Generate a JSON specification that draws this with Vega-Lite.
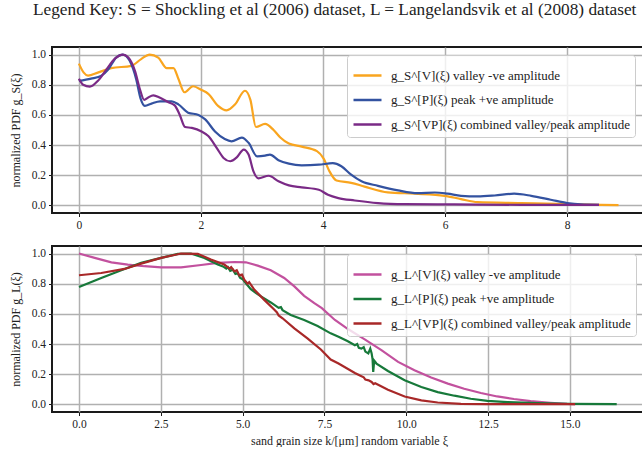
{
 "$schema": "https://vega.github.io/schema/vega-lite/v6.json",
 "padding": {"left": 8, "top": 0, "right": 0, "bottom": 0},
 "bounds": "flush",
 "spacing": 33,
 "title": {"text": "Legend Key: S = Shockling et al (2006) dataset, L = Langelandsvik et al (2008) dataset", "anchor": "start", "frame": "group", "dx": -19, "fontSize": 17.3, "font": "Liberation Serif, Times New Roman, serif", "fontWeight": "normal", "color": "#222", "offset": 28},
 "datasets": {
  "S": [
   {"x":0,"y":0.94,"s":"V"},{"x":0.08,"y":0.88,"s":"V"},{"x":0.15,"y":0.86,"s":"V"},{"x":0.31,"y":0.88,"s":"V"},{"x":0.53,"y":0.91,"s":"V"},{"x":0.86,"y":0.925,"s":"V"},{"x":1.02,"y":0.97,"s":"V"},{"x":1.16,"y":1.0,"s":"V"},{"x":1.30,"y":0.98,"s":"V"},{"x":1.44,"y":0.91,"s":"V"},{"x":1.55,"y":0.91,"s":"V"},{"x":1.63,"y":0.84,"s":"V"},{"x":1.73,"y":0.75,"s":"V"},{"x":1.87,"y":0.79,"s":"V"},{"x":2.01,"y":0.765,"s":"V"},{"x":2.12,"y":0.74,"s":"V"},{"x":2.28,"y":0.66,"s":"V"},{"x":2.42,"y":0.63,"s":"V"},{"x":2.56,"y":0.67,"s":"V"},{"x":2.72,"y":0.76,"s":"V"},{"x":2.81,"y":0.70,"s":"V"},{"x":2.90,"y":0.52,"s":"V"},{"x":3.05,"y":0.54,"s":"V"},{"x":3.19,"y":0.50,"s":"V"},{"x":3.30,"y":0.45,"s":"V"},{"x":3.44,"y":0.41,"s":"V"},{"x":3.65,"y":0.39,"s":"V"},{"x":3.90,"y":0.36,"s":"V"},{"x":4.01,"y":0.31,"s":"V"},{"x":4.10,"y":0.23,"s":"V"},{"x":4.22,"y":0.165,"s":"V"},{"x":4.46,"y":0.15,"s":"V"},{"x":4.68,"y":0.125,"s":"V"},{"x":5.06,"y":0.087,"s":"V"},{"x":5.50,"y":0.078,"s":"V"},{"x":5.99,"y":0.064,"s":"V"},{"x":6.26,"y":0.042,"s":"V"},{"x":6.53,"y":0.022,"s":"V"},{"x":7.24,"y":0.016,"s":"V"},{"x":8.0,"y":0.009,"s":"V"},{"x":8.55,"y":0.004,"s":"V"},{"x":8.84,"y":0.002,"s":"V"},
   {"x":0,"y":0.825,"s":"P"},{"x":0.20,"y":0.84,"s":"P"},{"x":0.37,"y":0.86,"s":"P"},{"x":0.48,"y":0.90,"s":"P"},{"x":0.61,"y":0.98,"s":"P"},{"x":0.72,"y":1.0,"s":"P"},{"x":0.83,"y":0.96,"s":"P"},{"x":0.94,"y":0.835,"s":"P"},{"x":1.01,"y":0.71,"s":"P"},{"x":1.08,"y":0.66,"s":"P"},{"x":1.19,"y":0.675,"s":"P"},{"x":1.33,"y":0.69,"s":"P"},{"x":1.52,"y":0.69,"s":"P"},{"x":1.63,"y":0.67,"s":"P"},{"x":1.79,"y":0.615,"s":"P"},{"x":1.96,"y":0.60,"s":"P"},{"x":2.07,"y":0.57,"s":"P"},{"x":2.23,"y":0.49,"s":"P"},{"x":2.39,"y":0.44,"s":"P"},{"x":2.50,"y":0.425,"s":"P"},{"x":2.67,"y":0.45,"s":"P"},{"x":2.78,"y":0.415,"s":"P"},{"x":2.92,"y":0.325,"s":"P"},{"x":3.05,"y":0.33,"s":"P"},{"x":3.13,"y":0.337,"s":"P"},{"x":3.27,"y":0.30,"s":"P"},{"x":3.44,"y":0.277,"s":"P"},{"x":3.65,"y":0.266,"s":"P"},{"x":3.93,"y":0.27,"s":"P"},{"x":4.16,"y":0.28,"s":"P"},{"x":4.30,"y":0.26,"s":"P"},{"x":4.46,"y":0.204,"s":"P"},{"x":4.63,"y":0.16,"s":"P"},{"x":4.90,"y":0.13,"s":"P"},{"x":5.23,"y":0.10,"s":"P"},{"x":5.55,"y":0.082,"s":"P"},{"x":5.83,"y":0.086,"s":"P"},{"x":6.04,"y":0.078,"s":"P"},{"x":6.26,"y":0.064,"s":"P"},{"x":6.53,"y":0.06,"s":"P"},{"x":6.81,"y":0.066,"s":"P"},{"x":7.13,"y":0.078,"s":"P"},{"x":7.41,"y":0.064,"s":"P"},{"x":7.73,"y":0.038,"s":"P"},{"x":8.0,"y":0.016,"s":"P"},{"x":8.22,"y":0.007,"s":"P"},{"x":8.52,"y":0.004,"s":"P"},
   {"x":0,"y":0.84,"s":"VP"},{"x":0.07,"y":0.80,"s":"VP"},{"x":0.18,"y":0.787,"s":"VP"},{"x":0.31,"y":0.825,"s":"VP"},{"x":0.45,"y":0.90,"s":"VP"},{"x":0.59,"y":0.973,"s":"VP"},{"x":0.72,"y":1.0,"s":"VP"},{"x":0.81,"y":0.98,"s":"VP"},{"x":0.92,"y":0.89,"s":"VP"},{"x":1.0,"y":0.77,"s":"VP"},{"x":1.07,"y":0.70,"s":"VP"},{"x":1.13,"y":0.714,"s":"VP"},{"x":1.22,"y":0.73,"s":"VP"},{"x":1.33,"y":0.714,"s":"VP"},{"x":1.46,"y":0.685,"s":"VP"},{"x":1.57,"y":0.663,"s":"VP"},{"x":1.65,"y":0.603,"s":"VP"},{"x":1.74,"y":0.52,"s":"VP"},{"x":1.85,"y":0.514,"s":"VP"},{"x":2.01,"y":0.49,"s":"VP"},{"x":2.12,"y":0.46,"s":"VP"},{"x":2.26,"y":0.38,"s":"VP"},{"x":2.37,"y":0.315,"s":"VP"},{"x":2.48,"y":0.293,"s":"VP"},{"x":2.59,"y":0.32,"s":"VP"},{"x":2.70,"y":0.37,"s":"VP"},{"x":2.78,"y":0.337,"s":"VP"},{"x":2.86,"y":0.226,"s":"VP"},{"x":2.94,"y":0.18,"s":"VP"},{"x":3.11,"y":0.197,"s":"VP"},{"x":3.27,"y":0.16,"s":"VP"},{"x":3.44,"y":0.133,"s":"VP"},{"x":3.65,"y":0.12,"s":"VP"},{"x":3.93,"y":0.104,"s":"VP"},{"x":4.08,"y":0.071,"s":"VP"},{"x":4.25,"y":0.049,"s":"VP"},{"x":4.52,"y":0.033,"s":"VP"},{"x":4.90,"y":0.016,"s":"VP"},{"x":5.34,"y":0.009,"s":"VP"},{"x":6.15,"y":0.007,"s":"VP"},{"x":7.24,"y":0.004,"s":"VP"},{"x":8.52,"y":0.004,"s":"VP"}
  ],
  "L": [
   {"x":0,"y":1.0,"s":"V"},{"x":0.48,"y":0.971,"s":"V"},{"x":0.99,"y":0.942,"s":"V"},{"x":1.49,"y":0.927,"s":"V"},{"x":2.0,"y":0.916,"s":"V"},{"x":2.51,"y":0.909,"s":"V"},{"x":3.12,"y":0.909,"s":"V"},{"x":3.73,"y":0.924,"s":"V"},{"x":4.24,"y":0.938,"s":"V"},{"x":4.75,"y":0.944,"s":"V"},{"x":5.10,"y":0.942,"s":"V"},{"x":5.46,"y":0.92,"s":"V"},{"x":5.86,"y":0.889,"s":"V"},{"x":6.27,"y":0.838,"s":"V"},{"x":6.58,"y":0.782,"s":"V"},{"x":6.88,"y":0.72,"s":"V"},{"x":7.19,"y":0.671,"s":"V"},{"x":7.42,"y":0.638,"s":"V"},{"x":7.82,"y":0.56,"s":"V"},{"x":8.23,"y":0.498,"s":"V"},{"x":8.73,"y":0.431,"s":"V"},{"x":9.24,"y":0.36,"s":"V"},{"x":9.75,"y":0.282,"s":"V"},{"x":10.25,"y":0.227,"s":"V"},{"x":10.76,"y":0.178,"s":"V"},{"x":11.27,"y":0.138,"s":"V"},{"x":11.77,"y":0.104,"s":"V"},{"x":12.28,"y":0.076,"s":"V"},{"x":12.78,"y":0.053,"s":"V"},{"x":13.29,"y":0.036,"s":"V"},{"x":13.80,"y":0.022,"s":"V"},{"x":14.40,"y":0.011,"s":"V"},{"x":14.91,"y":0.004,"s":"V"},{"x":15.16,"y":0.002,"s":"V"},
   {"x":0,"y":0.778,"s":"P"},{"x":0.68,"y":0.838,"s":"P"},{"x":1.39,"y":0.898,"s":"P"},{"x":1.90,"y":0.938,"s":"P"},{"x":2.51,"y":0.971,"s":"P"},{"x":3.02,"y":0.998,"s":"P"},{"x":3.42,"y":1.0,"s":"P"},{"x":3.83,"y":0.971,"s":"P"},{"x":4.24,"y":0.927,"s":"P"},{"x":4.4,"y":0.915,"s":"P"},{"x":4.5,"y":0.9,"s":"P"},{"x":4.55,"y":0.91,"s":"P"},{"x":4.62,"y":0.885,"s":"P"},{"x":4.7,"y":0.893,"s":"P"},{"x":4.78,"y":0.865,"s":"P"},{"x":4.85,"y":0.87,"s":"P"},{"x":4.92,"y":0.84,"s":"P"},{"x":5.0,"y":0.83,"s":"P"},{"x":5.05,"y":0.816,"s":"P"},{"x":5.15,"y":0.79,"s":"P"},{"x":5.25,"y":0.764,"s":"P"},{"x":5.4,"y":0.74,"s":"P"},{"x":5.56,"y":0.716,"s":"P"},{"x":5.86,"y":0.676,"s":"P"},{"x":6.1,"y":0.64,"s":"P"},{"x":6.17,"y":0.645,"s":"P"},{"x":6.22,"y":0.625,"s":"P"},{"x":6.47,"y":0.593,"s":"P"},{"x":6.88,"y":0.56,"s":"P"},{"x":7.29,"y":0.52,"s":"P"},{"x":7.69,"y":0.471,"s":"P"},{"x":7.93,"y":0.449,"s":"P"},{"x":8.2,"y":0.42,"s":"P"},{"x":8.43,"y":0.393,"s":"P"},{"x":8.5,"y":0.4,"s":"P"},{"x":8.55,"y":0.375,"s":"P"},{"x":8.63,"y":0.37,"s":"P"},{"x":8.7,"y":0.38,"s":"P"},{"x":8.75,"y":0.35,"s":"P"},{"x":8.84,"y":0.338,"s":"P"},{"x":8.9,"y":0.37,"s":"P"},{"x":8.94,"y":0.34,"s":"P"},{"x":8.97,"y":0.3,"s":"P"},{"x":8.99,"y":0.216,"s":"P"},{"x":9.02,"y":0.29,"s":"P"},{"x":9.09,"y":0.271,"s":"P"},{"x":9.44,"y":0.222,"s":"P"},{"x":9.95,"y":0.16,"s":"P"},{"x":10.46,"y":0.116,"s":"P"},{"x":10.96,"y":0.082,"s":"P"},{"x":11.47,"y":0.058,"s":"P"},{"x":11.97,"y":0.038,"s":"P"},{"x":12.48,"y":0.024,"s":"P"},{"x":13.09,"y":0.016,"s":"P"},{"x":14.0,"y":0.009,"s":"P"},{"x":15.01,"y":0.004,"s":"P"},{"x":16.43,"y":0.002,"s":"P"},
   {"x":0,"y":0.856,"s":"VP"},{"x":0.68,"y":0.871,"s":"VP"},{"x":1.39,"y":0.898,"s":"VP"},{"x":1.90,"y":0.933,"s":"VP"},{"x":2.51,"y":0.971,"s":"VP"},{"x":3.12,"y":1.0,"s":"VP"},{"x":3.63,"y":0.998,"s":"VP"},{"x":4.03,"y":0.96,"s":"VP"},{"x":4.44,"y":0.927,"s":"VP"},{"x":4.6,"y":0.9,"s":"VP"},{"x":4.65,"y":0.91,"s":"VP"},{"x":4.75,"y":0.882,"s":"VP"},{"x":4.82,"y":0.89,"s":"VP"},{"x":4.9,"y":0.855,"s":"VP"},{"x":4.98,"y":0.86,"s":"VP"},{"x":5.05,"y":0.827,"s":"VP"},{"x":5.15,"y":0.8,"s":"VP"},{"x":5.2,"y":0.81,"s":"VP"},{"x":5.36,"y":0.76,"s":"VP"},{"x":5.66,"y":0.693,"s":"VP"},{"x":5.97,"y":0.627,"s":"VP"},{"x":6.05,"y":0.61,"s":"VP"},{"x":6.1,"y":0.59,"s":"VP"},{"x":6.22,"y":0.571,"s":"VP"},{"x":6.58,"y":0.504,"s":"VP"},{"x":6.98,"y":0.438,"s":"VP"},{"x":7.39,"y":0.364,"s":"VP"},{"x":7.69,"y":0.298,"s":"VP"},{"x":7.93,"y":0.271,"s":"VP"},{"x":8.43,"y":0.209,"s":"VP"},{"x":8.6,"y":0.19,"s":"VP"},{"x":8.7,"y":0.18,"s":"VP"},{"x":8.75,"y":0.165,"s":"VP"},{"x":8.85,"y":0.16,"s":"VP"},{"x":8.94,"y":0.149,"s":"VP"},{"x":9.0,"y":0.135,"s":"VP"},{"x":9.05,"y":0.14,"s":"VP"},{"x":9.44,"y":0.098,"s":"VP"},{"x":9.95,"y":0.053,"s":"VP"},{"x":10.46,"y":0.027,"s":"VP"},{"x":10.96,"y":0.013,"s":"VP"},{"x":11.67,"y":0.004,"s":"VP"},{"x":12.48,"y":0.002,"s":"VP"},{"x":15.16,"y":0.002,"s":"VP"}
  ]
 },
 "resolve": {"scale": {"color": "independent", "x": "independent"}, "legend": {"color": "independent"}},
 "vconcat": [
  {
   "width": 594, "height": 166,
   "data": {"name": "S"},
   "mark": {"type": "line", "strokeWidth": 2.2, "interpolate": "monotone"},
   "encoding": {
    "x": {"field": "x", "type": "quantitative", "scale": {"domain": [-0.44, 9.29], "nice": false, "zero": false}, "axis": {"values": [0, 2, 4, 6, 8], "title": null, "format": "d"}},
    "y": {"field": "y", "type": "quantitative", "scale": {"domain": [-0.05, 1.05], "nice": false, "zero": false}, "axis": {"values": [0, 0.2, 0.4, 0.6, 0.8, 1.0], "format": ".1f", "title": "normalized PDF g_S(ξ)", "titleX": -37, "titleBaseline": "middle"}},
    "color": {"field": "s", "type": "nominal", "sort": null, "scale": {"domain": ["V", "P", "VP"], "range": ["#F9A51F", "#3352A0", "#7A2A86"]},
     "legend": {"labelExpr": "datum.value == 'V' ? 'g_S^[V](ξ) valley -ve amplitude' : datum.value == 'P' ? 'g_S^[P](ξ) peak +ve amplitude' : 'g_S^[VP](ξ) combined valley/peak amplitude'"}}
   }
  },
  {
   "width": 594, "height": 166,
   "data": {"name": "L"},
   "mark": {"type": "line", "strokeWidth": 2.2},
   "encoding": {
    "x": {"field": "x", "type": "quantitative", "scale": {"domain": [-0.825, 17.325], "nice": false, "zero": false}, "axis": {"values": [0, 2.5, 5, 7.5, 10, 12.5, 15], "format": ".1f", "title": "sand grain size k/[μm] random variable ξ"}},
    "y": {"field": "y", "type": "quantitative", "scale": {"domain": [-0.05, 1.05], "nice": false, "zero": false}, "axis": {"values": [0, 0.2, 0.4, 0.6, 0.8, 1.0], "format": ".1f", "title": "normalized PDF g_L(ξ)", "titleX": -37, "titleBaseline": "middle"}},
    "color": {"field": "s", "type": "nominal", "sort": null, "scale": {"domain": ["V", "P", "VP"], "range": ["#C2519E", "#17793A", "#A82828"]},
     "legend": {"labelExpr": "datum.value == 'V' ? 'g_L^[V](ξ) valley -ve amplitude' : datum.value == 'P' ? 'g_L^[P](ξ) peak +ve amplitude' : 'g_L^[VP](ξ) combined valley/peak amplitude'"}}
   }
  }
 ],
 "config": {
  "font": "Liberation Serif, Times New Roman, serif",
  "view": {"stroke": "#1a1a1a", "strokeWidth": 2},
  "axis": {"domain": false, "grid": true, "gridColor": "#b0b0b0", "gridWidth": 1.5, "tickColor": "#1a1a1a", "tickSize": 3.5, "tickWidth": 1, "labelFont": "Liberation Serif, Times New Roman, serif", "labelFontSize": 11.5, "labelColor": "#222", "labelPadding": 3, "titleFont": "Liberation Serif, Times New Roman, serif", "titleFontSize": 12, "titleFontWeight": "normal", "titleColor": "#222", "titlePadding": 5},
  "legend": {"orient": "none", "legendX": 295, "legendY": 8, "title": null, "symbolType": "stroke", "symbolSize": 784, "symbolStrokeWidth": 2.5, "labelFont": "Liberation Serif, Times New Roman, serif", "labelFontSize": 13, "labelLimit": 0, "labelColor": "#222", "labelOffset": 8, "padding": 5, "rowPadding": 1.5, "strokeColor": "#cccccc", "fillColor": "rgba(255,255,255,0.8)", "cornerRadius": 3}
 }
}
